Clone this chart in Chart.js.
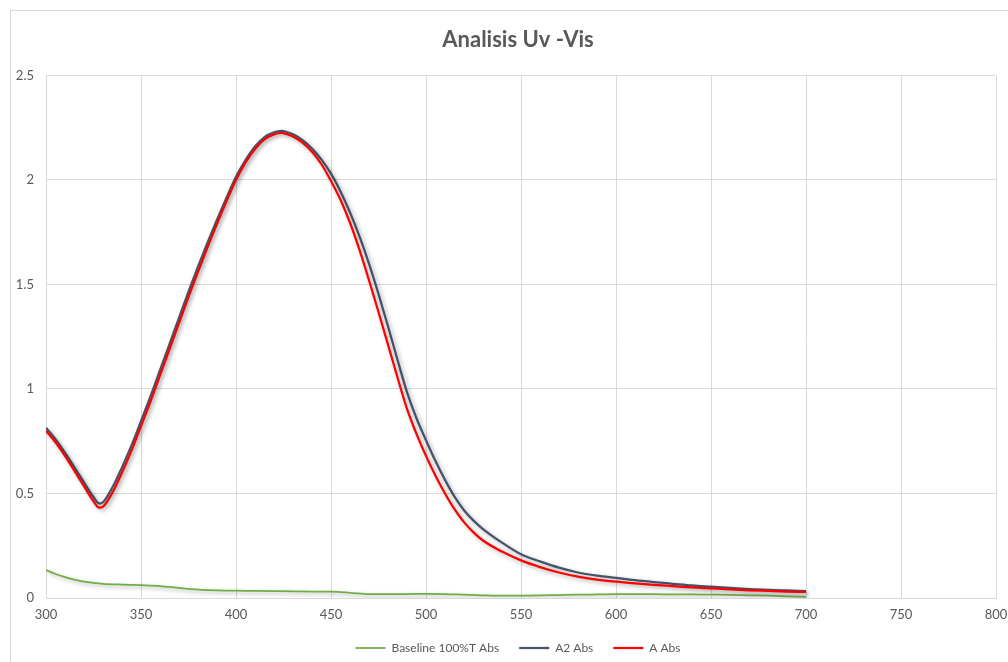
<!DOCTYPE html>
<html>
<head>
<meta charset="utf-8">
<script src="https://cdn.jsdelivr.net/npm/chart.js@4/dist/chart.umd.min.js"></script>
<style>
  html, body { margin: 0; padding: 0; background: #fff; overflow: hidden; width: 1008px; height: 662px; }
  #frame { position: absolute; left: 10px; top: 10px; width: 1014px; height: 656px; border: 1px solid #d9d9d9; box-sizing: border-box; }
  #frame canvas { position: absolute; left: 0; top: 0; }
</style>
</head>
<body>
<div id="frame"><canvas id="myChart" width="1014" height="656"></canvas></div>
<script>
// wavelengths (nm) for the two sample scans
const sampleNm = [300, 305, 310, 315, 320, 325, 328, 330, 335, 340, 345, 350, 355, 360, 365, 370, 375, 380, 385, 390,
  395, 400, 405, 410, 415, 420, 424, 425, 430, 435, 440, 445, 450, 455, 460, 465, 470, 475, 480, 485,
  490, 495, 500, 505, 510, 515, 520, 525, 530, 540, 550, 560, 570, 580, 590, 600, 610, 620, 630, 640,
  650, 660, 670, 680, 690, 700];

const a2Abs = [0.815, 0.76, 0.695, 0.625, 0.553, 0.483, 0.452, 0.458, 0.53, 0.625, 0.73, 0.846, 0.965, 1.09, 1.215, 1.34, 1.465, 1.585, 1.70, 1.81,
  1.915, 2.015, 2.095, 2.16, 2.205, 2.228, 2.235, 2.234, 2.218, 2.19, 2.15, 2.097, 2.03, 1.945, 1.845, 1.73, 1.60, 1.455, 1.30, 1.14,
  0.985, 0.86, 0.755, 0.655, 0.565, 0.485, 0.42, 0.37, 0.33, 0.265, 0.209, 0.175, 0.145, 0.122, 0.107, 0.096, 0.085, 0.076, 0.068, 0.06,
  0.054, 0.048, 0.043, 0.039, 0.036, 0.033];

const aAbs = [0.80, 0.745, 0.68, 0.608, 0.535, 0.463, 0.432, 0.437, 0.505, 0.60, 0.705, 0.822, 0.94, 1.065, 1.19, 1.315, 1.44, 1.56, 1.678, 1.79,
  1.898, 2.0, 2.083, 2.148, 2.194, 2.218, 2.225, 2.224, 2.208, 2.178, 2.135, 2.075, 1.995, 1.905, 1.795, 1.665, 1.52, 1.368, 1.212, 1.055,
  0.905, 0.785, 0.68, 0.585, 0.50, 0.425, 0.363, 0.314, 0.275, 0.222, 0.18, 0.148, 0.122, 0.102, 0.088, 0.078, 0.07, 0.063, 0.057, 0.051,
  0.046, 0.041, 0.037, 0.034, 0.031, 0.029];

// baseline (100%T) scan
const baselineNm = [300, 305, 310, 315, 320, 325, 330, 340, 350, 360, 370, 380, 390, 400, 410, 420, 430, 440, 450, 460,
  470, 480, 490, 500, 510, 520, 530, 540, 550, 560, 570, 580, 590, 600, 610, 620, 630, 640, 650, 660,
  670, 680, 690, 700];
const baselineAbs = [0.134, 0.115, 0.10, 0.088, 0.078, 0.072, 0.068, 0.064, 0.061, 0.057, 0.048, 0.04, 0.036, 0.035, 0.034, 0.033, 0.032, 0.031, 0.03, 0.025,
  0.019, 0.018, 0.019, 0.02, 0.019, 0.016, 0.013, 0.011, 0.011, 0.012, 0.014, 0.016, 0.017, 0.018, 0.018, 0.018, 0.017, 0.017, 0.016, 0.015,
  0.013, 0.011, 0.008, 0.005];

const seriesNames = ['Baseline 100%T Abs', 'A2 Abs', 'A Abs'];
const seriesColors = ['#70AD47', '#44546A', '#FF0000'];

function toPoints(xs, ys) {
    return xs.map((x, i) => ({x: x, y: ys[i]}));
}

// soft drop shadow under each line
const lineShadow = {
    id: 'lineShadow',
    beforeDatasetDraw(chart) {
        const c = chart.ctx;
        c.save();
        c.shadowColor = 'rgba(0,0,0,0.32)';
        c.shadowBlur = 4;
        c.shadowOffsetX = 2;
        c.shadowOffsetY = 2;
    },
    afterDatasetDraw(chart) {
        chart.ctx.restore();
    }
};

const textColor = '#595959';
const gridColor = '#d9d9d9';
const fontFamily = 'Lato, "Open Sans", sans-serif';

const ctx = document.getElementById('myChart').getContext('2d');
const myChart = new Chart(ctx, {
    type: 'line',
    data: {
        datasets: [{
            label: seriesNames[0],
            data: toPoints(baselineNm, baselineAbs),
            borderColor: seriesColors[0],
            backgroundColor: seriesColors[0],
            borderWidth: 1.75,
            order: 3
        }, {
            label: seriesNames[1],
            data: toPoints(sampleNm, a2Abs),
            borderColor: seriesColors[1],
            backgroundColor: seriesColors[1],
            borderWidth: 2.25,
            order: 2
        }, {
            label: seriesNames[2],
            data: toPoints(sampleNm, aAbs),
            borderColor: seriesColors[2],
            backgroundColor: seriesColors[2],
            borderWidth: 2.25,
            order: 1
        }]
    },
    options: {
        responsive: false,
        animation: false,
        parsing: false,
        elements: {
            point: { radius: 0 },
            line: { cubicInterpolationMode: 'monotone', fill: false }
        },
        layout: { padding: { left: 0, right: 0, top: 0, bottom: 3 } },
        plugins: {
            tooltip: { enabled: false },
            title: {
                display: true,
                text: 'Analisis Uv -Vis',
                color: textColor,
                font: { family: fontFamily, size: 22, weight: 'bold' },
                padding: { top: 16, bottom: 22 }
            },
            legend: {
                position: 'bottom',
                labels: {
                    color: textColor,
                    font: { family: fontFamily, size: 12 },
                    usePointStyle: true,
                    pointStyle: 'line',
                    pointStyleWidth: 30,
                    padding: 20,
                    // keep series order in the legend, not draw order
                    sort: (a, b) => a.datasetIndex - b.datasetIndex
                }
            }
        },
        scales: {
            x: {
                type: 'linear',
                min: 300,
                max: 800,
                afterFit: (s) => { s.height = 24; },
                ticks: {
                    stepSize: 50,
                    color: textColor,
                    font: { family: fontFamily, size: 13 },
                    padding: 9,
                    maxRotation: 0
                },
                grid: { color: gridColor, drawTicks: false },
                border: { color: gridColor }
            },
            y: {
                min: 0,
                max: 2.5,
                afterFit: (s) => { s.width = 35; },
                ticks: {
                    stepSize: 0.5,
                    color: textColor,
                    font: { family: fontFamily, size: 13 },
                    padding: 12,
                    callback: (v) => String(v)
                },
                grid: { color: gridColor, drawTicks: false },
                border: { color: gridColor }
            },
            // empty right-hand margin so the plot ends short of the frame edge
            yMargin: {
                position: 'right',
                min: 0,
                max: 2.5,
                afterFit: (s) => { s.width = 29; },
                ticks: { display: false },
                grid: { display: false },
                border: { display: false }
            }
        }
    },
    plugins: [lineShadow]
});
</script>
</body>
</html>
